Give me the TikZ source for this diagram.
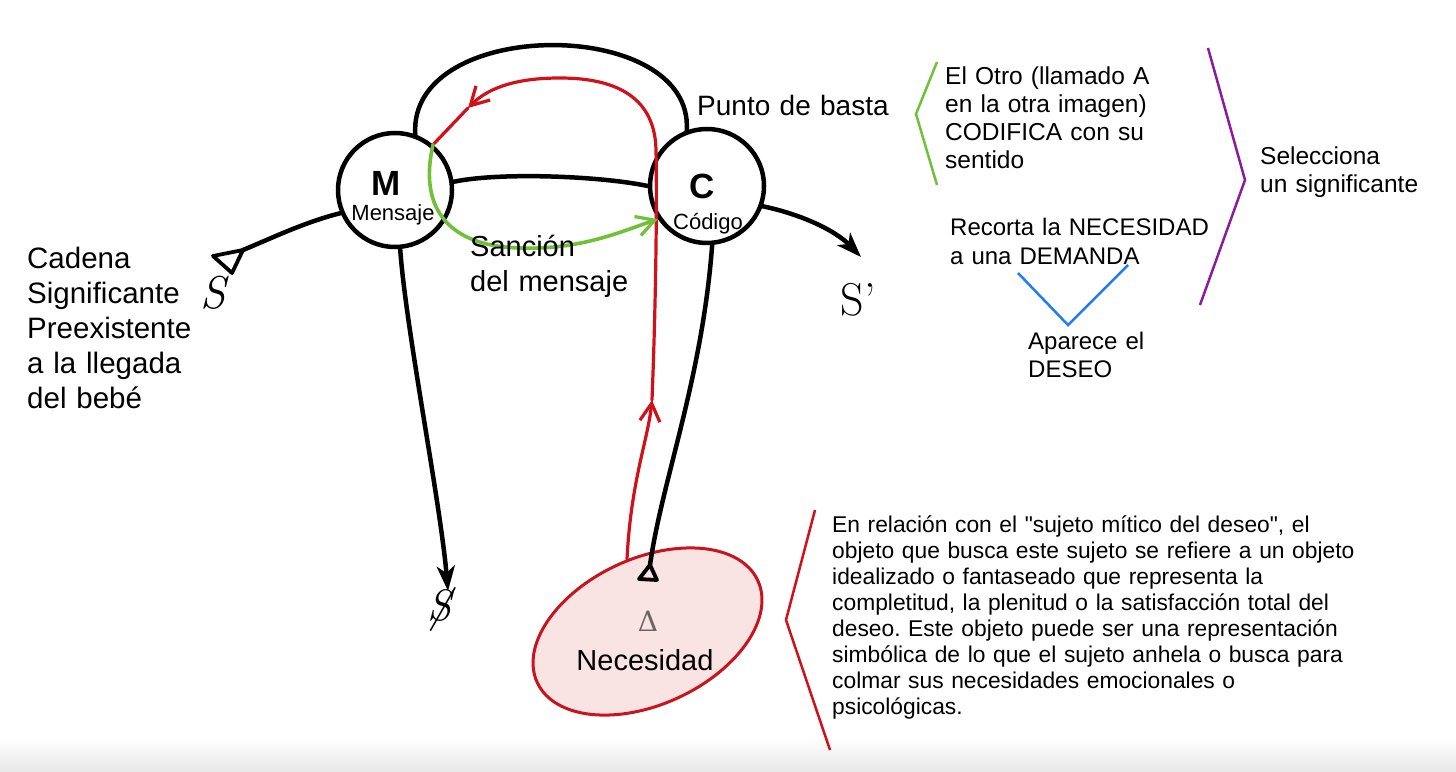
\documentclass[tikz,border=0pt]{standalone}
\usepackage{fontspec}
\setmainfont{Liberation Sans}[Ligatures=TeXOff]
\newfontfamily\lmfont{Latin Modern Roman}
\newfontfamily\dvserif{DejaVu Serif}
\usetikzlibrary{arrows.meta,shapes.geometric}
\definecolor{redl}{HTML}{D0111B}
\definecolor{ellred}{HTML}{C8141E}
\definecolor{ellfill}{HTML}{F9E3E3}
\definecolor{greenl}{HTML}{72BF3A}
\definecolor{purplel}{HTML}{8A1C9E}
\definecolor{bluel}{HTML}{1E7BFF}
\newcommand\setfs[2]{\fontsize{#1}{#2}\selectfont}
\frenchspacing
\begin{document}
\begin{tikzpicture}[x=1pt,y=-1pt,
  blk/.style={line width=4.5pt, black, line cap=round},
  tri/.style={line width=3.8pt, black, line join=round},
  circ/.style={circle, draw, line width=4.5pt, minimum size=114pt, inner sep=0pt, fill=white},
  blktip/.style={-{Stealth[length=25pt,width=18pt,inset=7pt]}},
  redline/.style={line width=3.2pt, redl, line cap=round},
  greenline/.style={line width=3.6pt, greenl, line cap=round},
  barb/.style={-{Straight Barb[length=18pt,width=20pt,line width=3.2pt]}},
  brk/.style={line width=2.5pt, line join=miter},
  txt/.style={inner sep=0pt, anchor=base west, align=left, text width=#1},
  txt/.default=400pt
]
\useasboundingbox (0,0) rectangle (1456,771);
\fill[white] (0,0) rectangle (1456,771);
\shade[top color=white, bottom color=black!9] (0,738) rectangle (1456,771);

% ellipse
\node[ellipse, draw=ellred, fill=ellfill, line width=3pt, minimum width=243pt, minimum height=146pt, rotate=24.8, inner sep=0pt] (Ell) at (647.5,631.5) {};
\node[text=black!60, font=\dvserif\setfs{28}{28}] (Delta) at (648,621) {Δ};
\node[inner sep=0pt, anchor=base, font=\setfs{29}{35}] (Nec) at (645,670) {Necesidad};

% circles
\node[circ] (M) at (395,190) {};
\node[circ] (C) at (707,186) {};
\node[font=\setfs{35}{35}\bfseries] (Mlet) at (386,183) {M};
\node[font=\setfs{22}{22}] (Mlab) at (393,215) {Mensaje};
\node[font=\setfs{35}{35}\bfseries] (Clet) at (702,186) {C};
\node[font=\setfs{22}{22}] (Clab) at (708,224) {Código};

% symbols
\node[font=\lmfont\itshape\setfs{46}{46}] (S) at (213,293) {S};
\node[font=\lmfont\setfs{46}{46}] (Sp) at (858,300) {S’};
\node[font=\lmfont\itshape\setfs{44}{44}] (Sbar) at (440,611) {\ooalign{S\cr\hidewidth/\hidewidth\cr}};

% black connectors
\draw[blk] (M.70) .. controls (408,16) and (694,16) .. (C.110);
\draw[blk] (M.8) .. controls (500,172) and (600,176) .. (C.180);
\coordinate (Stip) at (243,250);
\draw[blk] (M.203) .. controls (305,222) and (272,238) .. (Stip);
\draw[tri] (Stip) -- (213,256) -- (232,273) -- cycle;
\coordinate (Sbtip) at (448,591);
\draw[blk, blktip] (M.275) .. controls (406,330) and (440,500) .. (Sbtip);
\coordinate (Sptip) at (861,257);
\draw[blk, blktip] (C.-20) .. controls (800,214) and (835,230) .. (Sptip);
\coordinate (Dtip) at (650,565);
\draw[blk] (C.275) .. controls (702,380) and (662,480) .. (Dtip);
\draw[tri] (Dtip) -- (639,579) -- (657,580) -- cycle;

% red path
\coordinate (Rstart) at (627,559);
\coordinate (Rup) at (652,400);
\coordinate (Rleft) at (468,108);
\draw[redline, barb] (Rstart) .. controls (631,480) and (648,440) .. (Rup);
\draw[redline, barb] (Rup) .. controls (656,300) and (657,200) .. (656,150)
   .. controls (655,100) and (620,78) .. (560,78)
   .. controls (520,78) and (490,86) .. (Rleft);
\draw[redline] (Rleft) .. controls (450,126) .. (M.50);

% green path
\draw[greenline, barb] (M.50) .. controls (420,200) and (440,246) .. (520,248)
   .. controls (580,250) and (620,232) .. (C.214);

% left texts
\node[txt, font=\setfs{29.5}{35}] (cad) at (27,268) {Cadena\\Significante\\Preexistente\\a la llegada\\del bebé};
\node[txt, font=\setfs{29}{35}] (san) at (470,256) {Sanción\\del mensaje};
\node[txt, font=\setfs{28}{34}] (pb) at (697,115) {Punto de basta};

% upper right
\draw[brk, greenl] (937,62) -- (916,114) -- (937,185);
\node[txt, font=\setfs{24.5}{28}] (otro) at (945,84) {El Otro (llamado A\\en la otra imagen)\\CODIFICA con su\\sentido};
\draw[brk, purplel] (1208,48) -- (1245,180) -- (1200,305);
\node[txt, font=\setfs{24.5}{28}] (sel) at (1260,164) {Selecciona\\un significante};
\node[txt, font=\setfs{24}{29}] (rec) at (950,235) {Recorta la NECESIDAD\\a una DEMANDA};
\draw[brk, bluel] (1018,273) -- (1068,325) -- (1128,265);
\node[txt, font=\setfs{24}{28}] (apa) at (1028,349) {Aparece el\\DESEO};

% bottom right
\draw[brk, redl] (815,510) -- (786,620) -- (830,750);
\node[txt=600pt, font=\setfs{22.8}{26}] (par) at (832,532) {En relación con el "sujeto mítico del deseo", el\\objeto que busca este sujeto se refiere a un objeto\\idealizado o fantaseado que representa la\\completitud, la plenitud o la satisfacción total del\\deseo. Este objeto puede ser una representación\\simbólica de lo que el sujeto anhela o busca para\\colmar sus necesidades emocionales o\\psicológicas.};
\end{tikzpicture}
\end{document}
